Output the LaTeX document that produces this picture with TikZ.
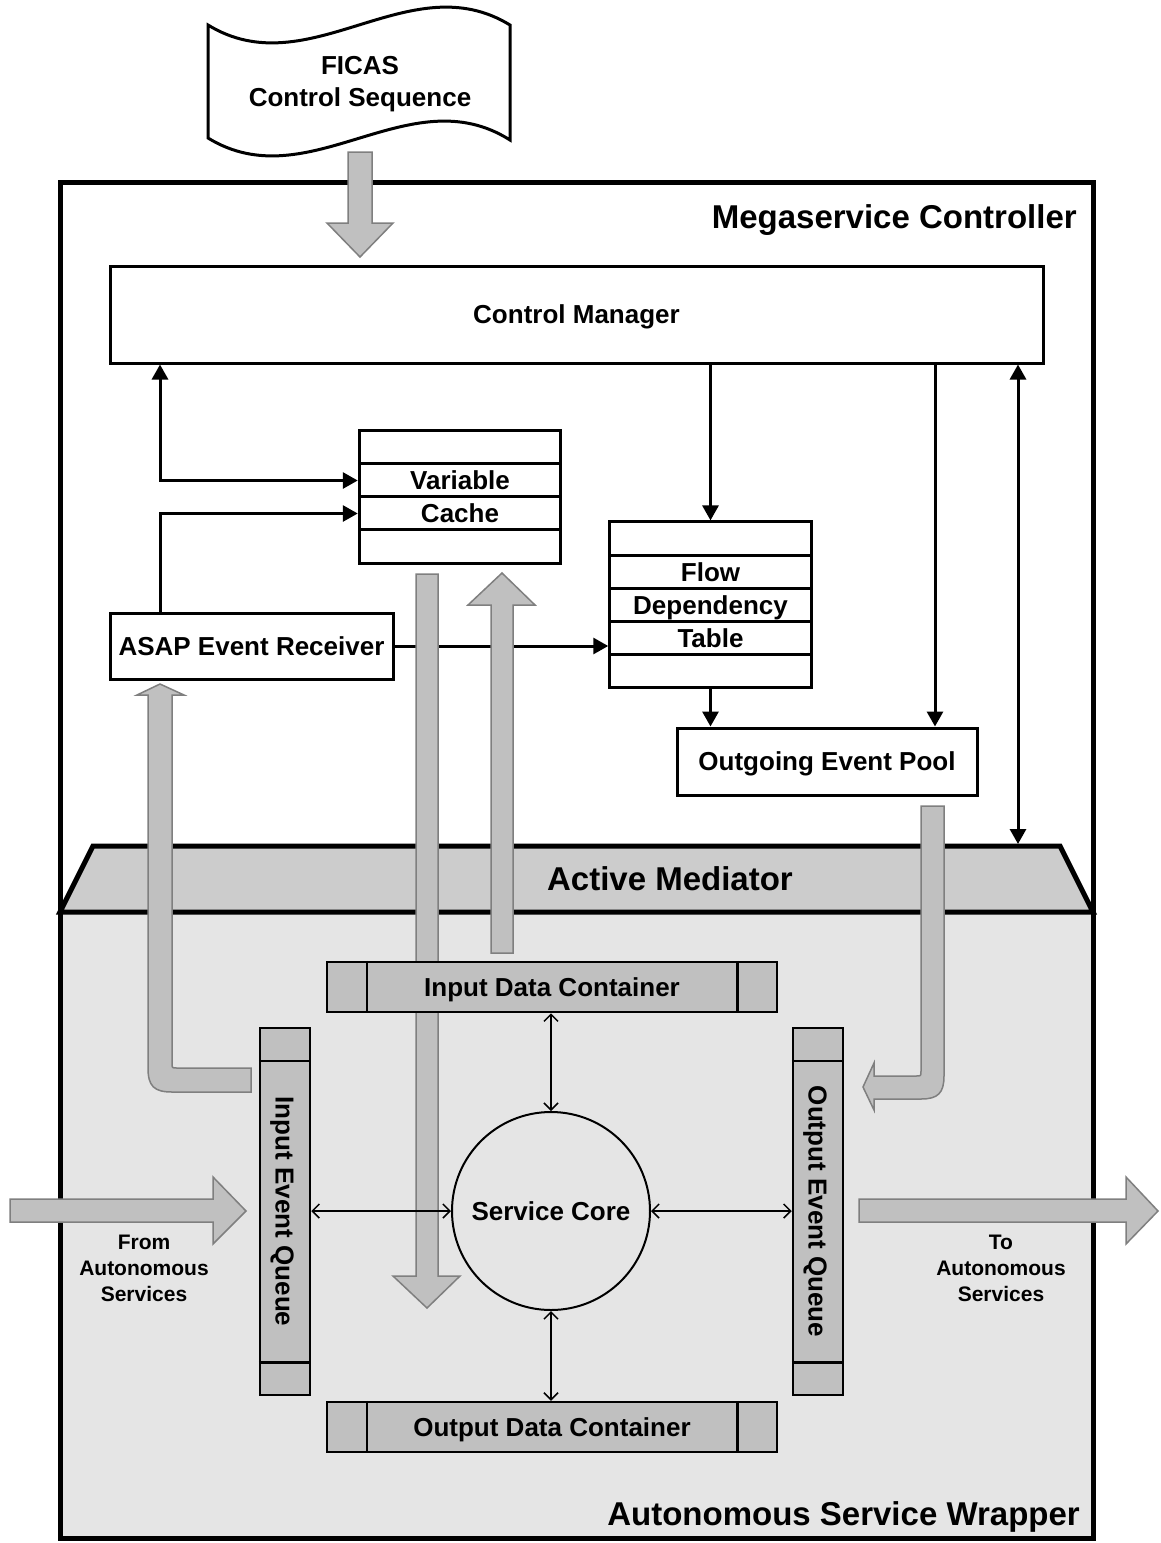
\documentclass[tikz,border=0pt]{standalone}
\usepackage{fontspec}
\setmainfont{Liberation Sans}
\usetikzlibrary{arrows.meta}
\definecolor{wrapgray}{HTML}{E5E5E5}
\definecolor{medgray}{HTML}{CCCCCC}
\definecolor{blockgray}{HTML}{C0C0C0}
\definecolor{rimgray}{HTML}{7F7F7F}
\tikzset{
  title/.style={font=\fontsize{33}{38}\selectfont\bfseries, inner sep=0pt},
  boxfont/.style={font=\fontsize{26}{32}\selectfont\bfseries},
  smallfont/.style={font=\fontsize{21}{26}\selectfont\bfseries},
  capline/.style={boxfont, text height=21pt, text depth=2.4pt},
  box/.style={draw, line width=3pt, fill=white, capline, inner sep=1pt},
  row/.style={box, minimum width=201.5pt, minimum height=33.2pt},
  slot/.style={draw, line width=2.5pt, fill=blockgray, capline, inner sep=0pt},
  link/.style={line width=3pt},
  duplex/.style={line width=1.5pt, {Straight Barb[length=7pt,width=14pt]}-{Straight Barb[length=7pt,width=14pt]}},
  garrow/.style={draw=rimgray, line width=1.5pt, fill=blockgray}
}
\begin{document}
\begin{tikzpicture}[x=1pt, y=-1pt, >={Triangle[length=15pt,width=16pt]}]
\useasboundingbox (0,0) rectangle (1160,1543);
\fill[wrapgray] (60,912) rectangle (1093,1538);
\draw[line width=5pt, fill=medgray] (60,912) -- (93,846) -- (1060,846) -- (1093,912) -- cycle;
\draw[line width=5pt] (60,182) rectangle (1093,1538);

\draw[line width=3pt, fill=white] (208,25) .. controls (309,87) and (409,-37) .. (510,25) -- (510,140) .. controls (409,76) and (309,200) .. (208,138) -- cycle;
\node[boxfont, align=center] (ficas) at (360,84) {FICAS\\Control Sequence};

\node[box, minimum width=933pt, minimum height=97pt] (cm) at (576.5,314.5) {Control Manager};
\foreach \i/\txt in {1/,2/Variable,3/Cache,4/}
  \node[row] (vc\i) at (460,414.5+33*\i) {\txt};
\foreach \i/\txt in {1/,2/Flow,3/Dependency,4/Table,5/}
  \node[row] (fd\i) at (710.5,505.3+33.2*\i) {\txt};
\node[box, minimum width=283pt, minimum height=66pt] (asap) at (251.5,646) {ASAP Event Receiver};
\node[box, minimum width=300pt, minimum height=67pt] (oep) at (827,761.5) {Outgoing Event Pool};

\coordinate (lx) at (160,0);
\coordinate (rx) at (935,0);
\coordinate (mx) at (1018,0);
\coordinate (medtop) at (1018,844);
\draw[link,<->] (cm.south -| lx) |- (vc2.west);
\draw[link,->] (asap.north -| lx) |- (vc3.west);
\draw[link,->] (cm.south -| fd1.north) -- (fd1.north);
\draw[link,->] (fd5.south) -- (fd5.south |- oep.north);
\draw[link,->] (cm.south -| rx) -- (oep.north -| rx);
\draw[link,<->] (cm.south -| mx) -- (medtop);
\draw[link,->] (asap.east) -- (asap.east -| fd4.west);

\draw[garrow] (348,152) -- (372,152) -- (372,223) -- (393,223) -- (360,257) -- (327,223) -- (348,223) -- cycle;
\draw[garrow] (251,1068) -- (177,1068) .. controls (172,1068) .. (172,1063) -- (172,695) -- (184,695) -- (160,684) -- (137,695) -- (148,695) -- (148,1068) .. controls (148,1086) and (154,1092) .. (172,1092) -- (251,1092) -- cycle;
\draw[garrow] (921,806) -- (944,806) -- (944,1076) .. controls (944,1093) and (938,1099) .. (921,1099) -- (874,1099) -- (874,1110) -- (863,1087) -- (874,1063) -- (874,1076) -- (916,1076) .. controls (921,1076) .. (921,1071) -- cycle;
\draw[garrow] (416,574) -- (438,574) -- (438,1276) -- (460,1276) -- (427,1308) -- (393,1276) -- (416,1276) -- cycle;
\draw[garrow] (491,953) -- (491,605) -- (468,605) -- (502,573) -- (535,605) -- (513,605) -- (513,953) -- cycle;
\draw[garrow] (10,1199) -- (213,1199) -- (213,1177) -- (246,1211) -- (213,1244) -- (213,1222) -- (10,1222) -- cycle;
\draw[garrow] (859,1199) -- (1126,1199) -- (1126,1177) -- (1158,1211) -- (1126,1244) -- (1126,1222) -- (859,1222) -- cycle;

\node[slot, minimum width=450pt, minimum height=50pt] (idc) at (552,987) {Input Data Container};
\draw[line width=2.5pt] ([xshift=41pt]idc.north west) -- ([xshift=41pt]idc.south west) ([xshift=-41pt]idc.north east) -- ([xshift=-41pt]idc.south east);
\node[slot, minimum width=450pt, minimum height=50pt] (odc) at (552,1427) {Output Data Container};
\draw[line width=2.5pt] ([xshift=41pt]odc.north west) -- ([xshift=41pt]odc.south west) ([xshift=-41pt]odc.north east) -- ([xshift=-41pt]odc.south east);
\node[slot, minimum width=50pt, minimum height=367pt] (ieq) at (285,1211.5) {};
\draw[line width=2.5pt] ([yshift=-34pt]ieq.north west) -- ([yshift=-34pt]ieq.north east) ([yshift=34pt]ieq.south west) -- ([yshift=34pt]ieq.south east);
\node[capline, rotate=-90] (ieqtext) at (ieq.center) {Input Event Queue};
\node[slot, minimum width=50pt, minimum height=367pt] (oeq) at (818,1211.5) {};
\draw[line width=2.5pt] ([yshift=-34pt]oeq.north west) -- ([yshift=-34pt]oeq.north east) ([yshift=34pt]oeq.south west) -- ([yshift=34pt]oeq.south east);
\node[capline, rotate=-90] (oeqtext) at (oeq.center) {Output Event Queue};
\node[draw, circle, line width=2pt, minimum size=198pt, capline] (core) at (551,1211) {Service Core};

\draw[duplex] (ieq.east |- core) -- (core.west);
\draw[duplex] (core.east) -- (core -| oeq.west);
\draw[duplex] (idc.south -| core) -- (core.north);
\draw[duplex] (core.south) -- (odc.north -| core);

\node[smallfont, align=center] (from) at (144,1268) {From\\Autonomous\\Services};
\node[smallfont, align=center] (to) at (1001,1268) {To\\Autonomous\\Services};
\node[title, anchor=base east] (msc) at (1077,228) {Megaservice Controller};
\node[title, anchor=base] (med) at (670,890) {Active Mediator};
\node[title, anchor=base east] (asw) at (1080,1525) {Autonomous Service Wrapper};
\end{tikzpicture}
\end{document}
